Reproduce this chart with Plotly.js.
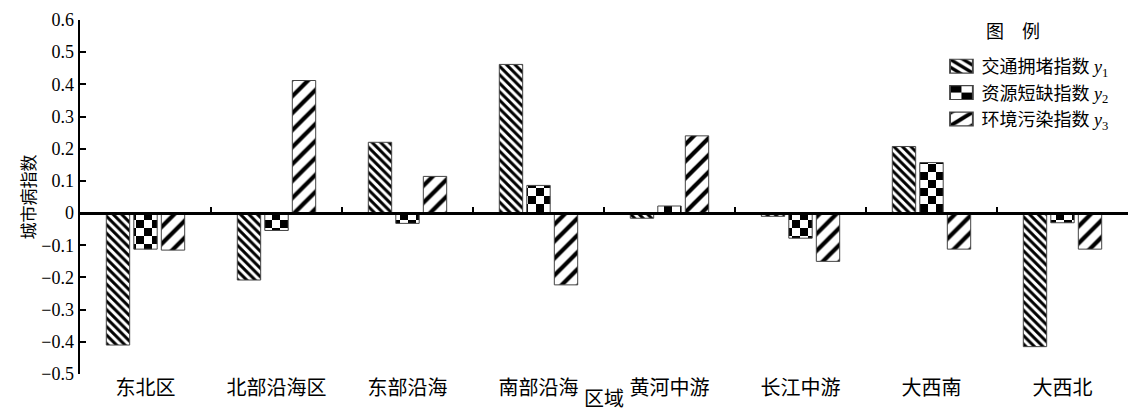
<!DOCTYPE html>
<html>
<head>
<meta charset="utf-8">
<script src="https://cdn.plot.ly/plotly-3.0.1.min.js"></script>
<style>html,body{margin:0;padding:0;background:#fff;}#chart{width:1131px;height:409px;}</style>
</head>
<body>
<div id="chart"></div>
<script>
const categories = ['东北区','北部沿海区','东部沿海','南部沿海','黄河中游','长江中游','大西南','大西北'];
const seriesNames = ['交通拥堵指数 <i>y</i><sub>1</sub>','资源短缺指数 <i>y</i><sub>2</sub>','环境污染指数 <i>y</i><sub>3</sub>'];
const y1 = [-0.41, -0.208, 0.22, 0.462, -0.016, -0.01, 0.207, -0.415];
const y2 = [-0.112, -0.054, -0.032, 0.086, 0.022, -0.078, 0.157, -0.03];
const y3 = [-0.115, 0.412, 0.114, -0.223, 0.24, -0.15, -0.112, -0.112];
const yTitle = '城市病指数';
const xTitle = '区域';
const legendTitle = '图　例';

const FONT = '"Liberation Serif", Tinos, "DejaVu Serif", "Noto Sans CJK SC", serif';
const lineStyle = {color: '#444', width: 1};

function barTrace(name, vals, pattern) {
  return {
    type: 'bar', x: categories, y: vals, name: name,
    xaxis: 'x', yaxis: 'y',
    marker: {color: 'white', line: lineStyle, pattern: pattern},
    hoverinfo: 'skip'
  };
}

const data = [
  barTrace(seriesNames[0], y1, {shape: '\\', size: 6, solidity: 0.5, fgcolor: 'black', bgcolor: 'white'}),
  barTrace(seriesNames[1], y2, {shape: '.', size: 8, solidity: 0.5, fgcolor: 'black', bgcolor: 'white'}),
  barTrace(seriesNames[2], y3, {shape: '/', size: 12, solidity: 0.35, fgcolor: 'black', bgcolor: 'white'}),
  {type: 'scatter', mode: 'none', x: categories, y: categories.map(() => null),
   xaxis: 'x2', yaxis: 'y', showlegend: false, hoverinfo: 'skip'}
];

const layout = {
  width: 1131, height: 409,
  margin: {l: 80, r: 3, t: 20, b: 35},
  paper_bgcolor: 'white', plot_bgcolor: 'white',
  font: {family: FONT, color: 'black', size: 17},
  barmode: 'group', bargap: 0.37, bargroupgap: 0.15,
  showlegend: true,
  legend: {
    x: 0.822, y: 0.921, xanchor: 'left', yanchor: 'top',
    font: {family: FONT, size: 18, color: 'black'},
    tracegroupgap: 0, itemwidth: 30, bgcolor: 'rgba(0,0,0,0)'
  },
  xaxis: {
    type: 'category', categoryorder: 'array', categoryarray: categories,
    range: [-0.5, 7.5], showline: false, ticks: '', showgrid: false, zeroline: false,
    tickfont: {family: FONT, size: 20}, fixedrange: true
  },
  xaxis2: {
    type: 'category', categoryorder: 'array', categoryarray: categories,
    overlaying: 'x', anchor: 'free', position: 0.5 / 1.1, side: 'bottom',
    range: [-0.5, 7.5], showline: true, linecolor: 'black', linewidth: 2.5,
    ticks: 'inside', ticklen: 5, tickwidth: 2, tickcolor: 'black', tickson: 'boundaries',
    showticklabels: false, showgrid: false, zeroline: false, fixedrange: true
  },
  yaxis: {
    range: [-0.5, 0.6], dtick: 0.1, tick0: 0,
    showline: true, linecolor: 'black', linewidth: 2.5,
    ticks: 'inside', ticklen: 6, tickwidth: 2, tickcolor: 'black',
    showgrid: false, zeroline: false,
    tickfont: {family: FONT, size: 18},
    title: {text: yTitle, font: {family: FONT, size: 17}},
    fixedrange: true
  },
  annotations: [{
    text: xTitle, xref: 'paper', yref: 'paper', x: 0.5, y: -0.07,
    xanchor: 'center', yanchor: 'middle', showarrow: false,
    font: {family: FONT, size: 20}
  }, {
    text: legendTitle, xref: 'paper', yref: 'paper', x: 0.89, y: 0.966,
    xanchor: 'center', yanchor: 'middle', showarrow: false,
    font: {family: FONT, size: 18}
  }]
};

Plotly.newPlot('chart', data, layout, {staticPlot: true}).then(function () {
  // turn the dot pattern into a checkerboard
  document.querySelectorAll('pattern').forEach(function (p) {
    if (p.querySelector('circle')) {
      p.setAttribute('width', 16);
      p.setAttribute('height', 16);
      p.innerHTML = '<rect x="0" y="0" width="16" height="16" fill="white"></rect>' +
        '<rect x="0" y="0" width="8" height="8" fill="black"></rect>' +
        '<rect x="8" y="8" width="8" height="8" fill="black"></rect>';
    }
  });
  // widen legend swatches to match the reference (keep Plotly's own translate)
  document.querySelectorAll('.legend .legendpoints path').forEach(function (el) {
    var old = el.getAttribute('transform') || '';
    el.setAttribute('transform', old + ' scale(1.9,1.15)');
  });
});
</script>
</body>
</html>
